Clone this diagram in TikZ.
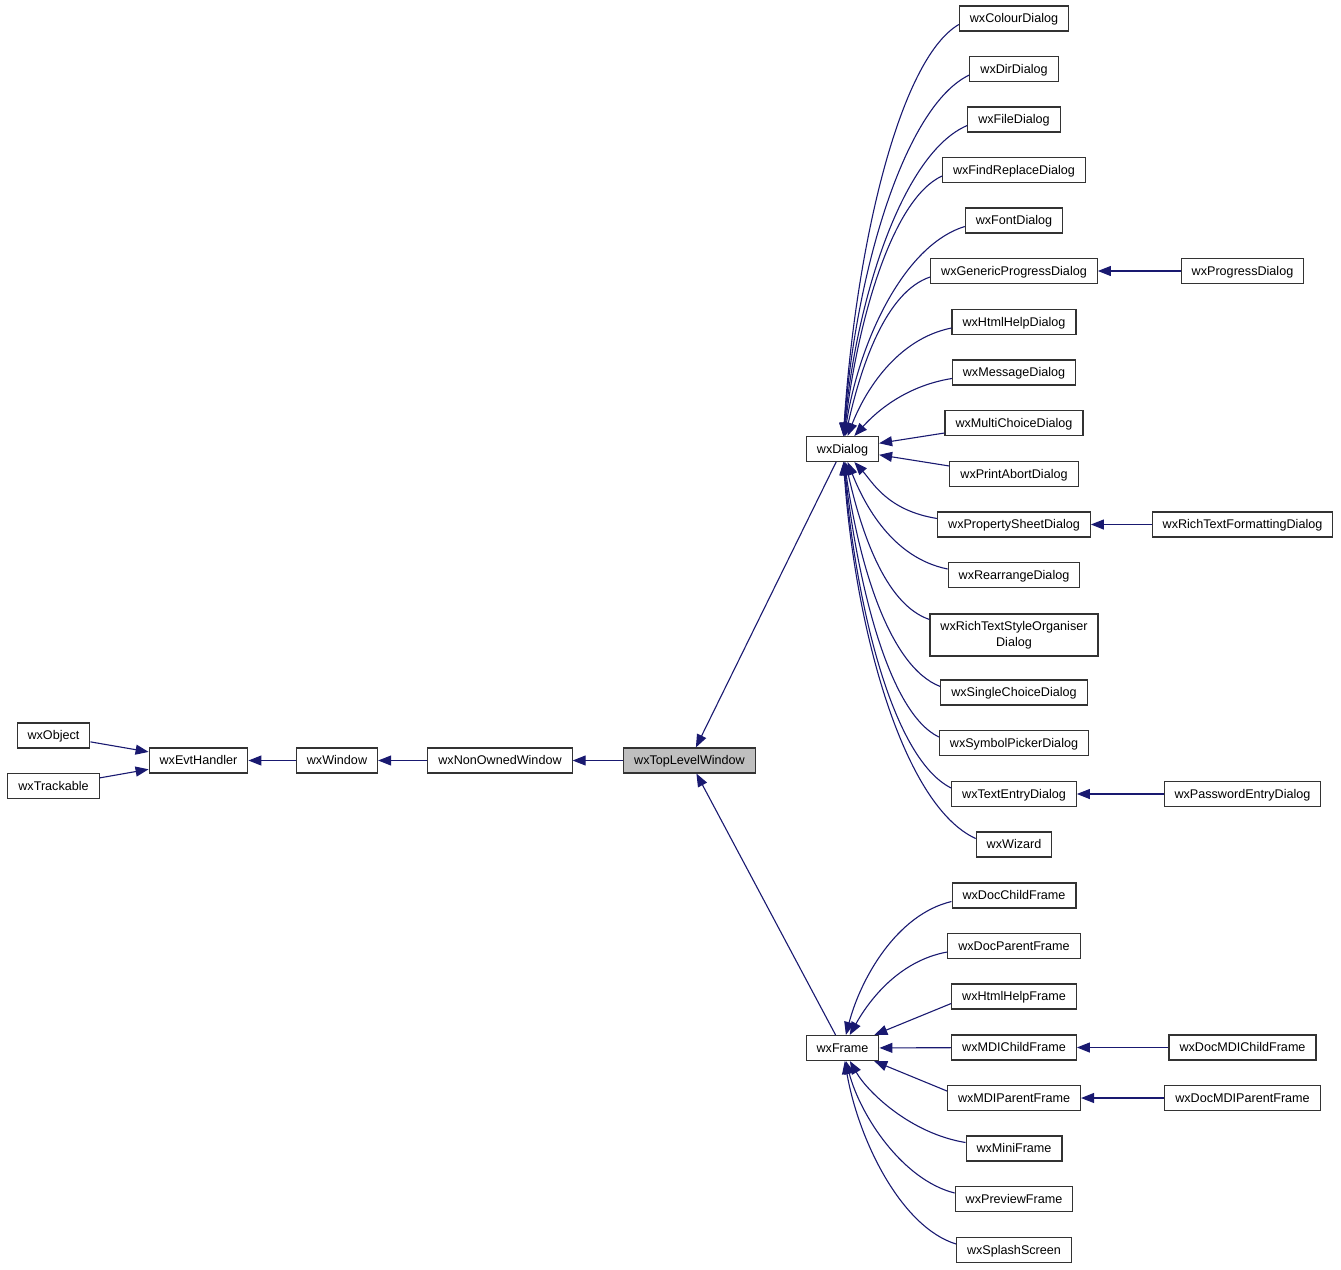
\documentclass[tikz,border=0pt]{standalone}
\usepackage{fontspec}
\setmainfont{Liberation Sans}
\usepackage{xcolor}
\usepackage{tikz}
\usetikzlibrary{arrows.meta,positioning}
\definecolor{inhblue}{RGB}{25,25,112}
\tikzset{
	clsbase/.style = {
			rectangle,
			draw            = black!80,
			line width      = 1.1pt,
			fill            = white,
			minimum height  = 25pt,
			inner xsep      = 10.5pt,
			inner ysep      = 2pt,
			font            = \fontsize{12.6}{16}\selectfont,
		},
	cls/.style = {
			clsbase,
			text height     = 10.5pt,
			text depth      = 2pt,
		},
	inh/.style = {
			draw       = inhblue,
			line width = 1.1pt,
			>          = {Triangle[length=13pt,width=10pt]},
			<-,
		}
}

\begin{document}
\begin{tikzpicture}[x=1pt, y=1pt]
	\useasboundingbox (0,0) rectangle (1341,-1269);
	% base chain
	\node[cls] (obj) at (53.5,-735.5) {wxObject};
	\node[cls] (trk) at (53.5,-786) {wxTrackable};
	\node[cls] (evt) at (198.5,-760.5) {wxEvtHandler};
	\node[cls] (win) at (337,-760.5) {wxWindow};
	\node[cls] (now) at (500,-760.5) {wxNonOwnedWindow};
	\node[cls, fill=black!25] (tlw) at (689.5,-760.5) {wxTopLevelWindow};
	\node[cls] (dlg) at (842.5,-449) {wxDialog};
	\node[cls] (frm) at (842.5,-1048) {wxFrame};
	% dialogs
	\node[cls] (coldlg) at (1014,-18.5) {wxColourDialog};
	\node[cls] (dirdlg) at (1014,-69) {wxDirDialog};
	\node[cls] (filedlg) at (1014,-119.5) {wxFileDialog};
	\node[cls] (finddlg) at (1014,-170) {wxFindReplaceDialog};
	\node[cls] (fontdlg) at (1014,-220.5) {wxFontDialog};
	\node[cls] (gpdlg) at (1014,-271) {wxGenericProgressDialog};
	\node[cls] (hhdlg) at (1014,-322) {wxHtmlHelpDialog};
	\node[cls] (msgdlg) at (1014,-372.5) {wxMessageDialog};
	\node[cls] (mcdlg) at (1014,-423) {wxMultiChoiceDialog};
	\node[cls] (padlg) at (1014,-474) {wxPrintAbortDialog};
	\node[cls] (psdlg) at (1014,-524.5) {wxPropertySheetDialog};
	\node[cls] (radlg) at (1014,-575) {wxRearrangeDialog};
	\node[clsbase, align=center, minimum height=42pt] (rtsodlg) at (1014,-635) {wxRichTextStyleOrganiser\\Dialog};
	\node[cls] (scdlg) at (1014,-692.5) {wxSingleChoiceDialog};
	\node[cls] (spdlg) at (1014,-743) {wxSymbolPickerDialog};
	\node[cls] (tedlg) at (1014,-794) {wxTextEntryDialog};
	\node[cls] (wiz) at (1014,-844.5) {wxWizard};
	% frames
	\node[cls] (dcf) at (1014,-895.5) {wxDocChildFrame};
	\node[cls] (dpf) at (1014,-946) {wxDocParentFrame};
	\node[cls] (hhf) at (1014,-996.5) {wxHtmlHelpFrame};
	\node[cls] (mdicf) at (1014,-1047.5) {wxMDIChildFrame};
	\node[cls] (mdipf) at (1014,-1098) {wxMDIParentFrame};
	\node[cls] (minif) at (1014,-1148.5) {wxMiniFrame};
	\node[cls] (pvf) at (1014,-1199) {wxPreviewFrame};
	\node[cls] (splash) at (1014,-1250) {wxSplashScreen};
	% third level
	\node[cls] (pdlg) at (1242.5,-271) {wxProgressDialog};
	\node[cls] (rtfdlg) at (1242.5,-524.5) {wxRichTextFormattingDialog};
	\node[cls] (pedlg) at (1242.5,-794) {wxPasswordEntryDialog};
	\node[cls] (dmcf) at (1242.5,-1047.5) {wxDocMDIChildFrame};
	\node[cls] (dmpf) at (1242.5,-1098) {wxDocMDIParentFrame};

	\draw[inh] (evt) -- (obj);
	\draw[inh] (evt) -- (trk);
	\draw[inh] (evt) -- (win);
	\draw[inh] (win) -- (now);
	\draw[inh] (now) -- (tlw);
	\draw[inh] (tlw) -- (dlg);
	\draw[inh] (tlw) -- (frm);

	\draw[inh] (dlg) .. controls +(13,200) and +(-60,-35) .. ([yshift=-6pt]coldlg.west);
	\draw[inh] (dlg) .. controls +(13,176) and +(-65,-31) .. ([yshift=-6pt]dirdlg.west);
	\draw[inh] (dlg) .. controls +(14,152) and +(-64,-27) .. ([yshift=-6pt]filedlg.west);
	\draw[inh] (dlg) .. controls +(15,128) and +(-50,-23) .. ([yshift=-6pt]finddlg.west);
	\draw[inh] (dlg) .. controls +(16,105) and +(-62,-19) .. ([yshift=-6pt]fontdlg.west);
	\draw[inh] (dlg) .. controls +(18,81) and +(-45,-15) .. ([yshift=-6pt]gpdlg.west);
	\draw[inh] (dlg) .. controls +(22,57) and +(-55,-11) .. ([yshift=-6pt]hhdlg.west);
	\draw[inh] (dlg) .. controls +(30,33) and +(-50,-8) .. ([yshift=-6pt]msgdlg.west);
	\draw[inh] (dlg) -- ([yshift=-10pt]mcdlg.west);
	\draw[inh] (dlg) -- ([yshift=8pt]padlg.west);
	\draw[inh] (dlg) .. controls +(30,-33) and +(-50,8) .. ([yshift=6pt]psdlg.west);
	\draw[inh] (dlg) .. controls +(22,-56) and +(-55,11) .. ([yshift=6pt]radlg.west);
	\draw[inh] (dlg) .. controls +(18,-80) and +(-45,15) .. ([yshift=-6pt]rtsodlg.north west);
	\draw[inh] (dlg) .. controls +(16,-112) and +(-52,20) .. ([yshift=6pt]scdlg.west);
	\draw[inh] (dlg) .. controls +(15,-135) and +(-50,24) .. ([yshift=6pt]spdlg.west);
	\draw[inh] (dlg) .. controls +(14,-160) and +(-58,29) .. ([yshift=6pt]tedlg.west);
	\draw[inh] (dlg) .. controls +(13,-183) and +(-72,33) .. ([yshift=6pt]wiz.west);

	\draw[inh] (frm) .. controls +(18,69) and +(-55,-13) .. ([yshift=-6pt]dcf.west);
	\draw[inh] (frm) .. controls +(25,45) and +(-50,-9) .. ([yshift=-6pt]dpf.west);
	\draw[inh] (frm) -- ([yshift=-7pt]hhf.west);
	\draw[inh] (frm) -- (mdicf);
	\draw[inh] (frm) -- ([yshift=7pt]mdipf.west);
	\draw[inh] (frm) .. controls +(25,-44) and +(-55,9) .. ([yshift=6pt]minif.west);
	\draw[inh] (frm) .. controls +(18,-68) and +(-52,13) .. ([yshift=6pt]pvf.west);
	\draw[inh] (frm) .. controls +(16,-92) and +(-55,17) .. ([yshift=6pt]splash.west);

	\draw[inh] (gpdlg) -- (pdlg);
	\draw[inh] (psdlg) -- (rtfdlg);
	\draw[inh] (tedlg) -- (pedlg);
	\draw[inh] (mdicf) -- (dmcf);
	\draw[inh] (mdipf) -- (dmpf);
\end{tikzpicture}
\end{document}
